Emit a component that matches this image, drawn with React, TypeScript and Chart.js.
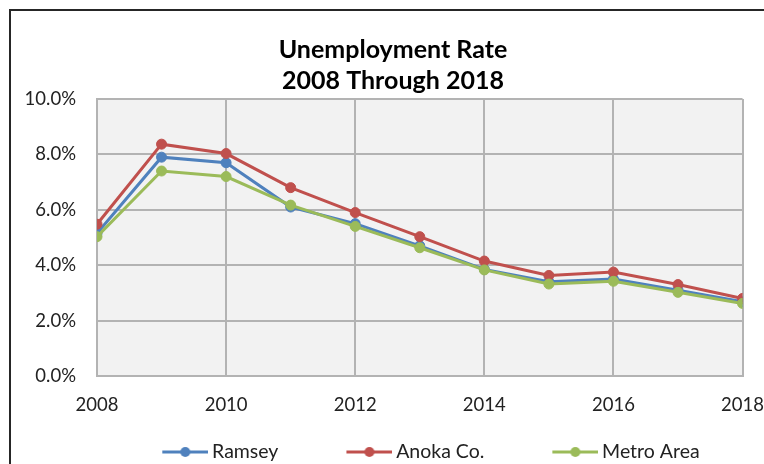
import React, { useEffect, useRef } from "react";
import { Chart, registerables } from "chart.js";

Chart.register(...registerables);

const years = [2008, 2009, 2010, 2011, 2012, 2013, 2014, 2015, 2016, 2017, 2018];
const ramsey = [5.15, 7.9, 7.7, 6.1, 5.5, 4.7, 3.85, 3.4, 3.5, 3.1, 2.68];
const anoka = [5.48, 8.37, 8.03, 6.8, 5.9, 5.03, 4.15, 3.63, 3.75, 3.3, 2.8];
const metro = [5.03, 7.4, 7.2, 6.17, 5.4, 4.63, 3.83, 3.32, 3.42, 3.02, 2.62];
const seriesNames = ["Ramsey", "Anoka Co.", "Metro Area"];
const seriesColors = ["#4f81bd", "#c0504d", "#9bbb59"];
const titleLines = ["Unemployment Rate", "2008 Through 2018"];

const FONT = "Lato, 'Open Sans', sans-serif";

function makeIcon(color: string): HTMLCanvasElement {
  const c = document.createElement("canvas");
  c.width = 52;
  c.height = 14;
  const ctx = c.getContext("2d")!;
  ctx.strokeStyle = color;
  ctx.lineWidth = 3;
  ctx.beginPath();
  ctx.moveTo(6, 7);
  ctx.lineTo(52, 7);
  ctx.stroke();
  ctx.fillStyle = color;
  ctx.beginPath();
  ctx.arc(29, 7, 5, 0, Math.PI * 2);
  ctx.fill();
  return c;
}

const plotBg = {
  id: "plotBg",
  beforeDraw(chart: any) {
    const { ctx, chartArea } = chart;
    ctx.save();
    ctx.fillStyle = "#f2f2f2";
    ctx.fillRect(chartArea.left, chartArea.top, chartArea.right - chartArea.left, chartArea.bottom - chartArea.top);
    ctx.restore();
  },
};

// place title and legend boxes where the reference has them
const placeBoxes = {
  id: "placeBoxes",
  afterLayout(chart: any) {
    const t = chart.titleBlock;
    if (t) {
      const cx = 393;
      const half = (t.right - t.left) / 2;
      t.left = cx - half;
      t.right = cx + half;
    }
    const lg = chart.legend;
    if (lg) {
      const cx = 431;
      lg.left = cx - 370;
      lg.right = cx + 370;
      lg.width = 740;
      const pad = lg.options.labels.padding;
      const fs = lg.options.labels.font.size;
      lg.top = 452 - pad - fs / 2;
      lg.height = fs + pad + 10;
      lg.bottom = lg.top + lg.height;
    }
  },
};

export default function App() {
  const ref = useRef<HTMLCanvasElement>(null);
  useEffect(() => {
    const icons = seriesColors.map(makeIcon);
    const all = [ramsey, anoka, metro];
    const chart = new Chart(ref.current!, {
      type: "line",
      data: {
        datasets: all.map((vals, i) => ({
          label: seriesNames[i],
          data: vals.map((v, j) => ({ x: years[j], y: v })),
          borderColor: seriesColors[i],
          backgroundColor: seriesColors[i],
          borderWidth: 3,
          pointRadius: 5,
          pointBorderWidth: 1,
          pointBackgroundColor: seriesColors[i],
          pointBorderColor: seriesColors[i],
          tension: 0,
          order: 3 - i,
        })),
      },
      options: {
        responsive: false,
        animation: false,
        layout: { padding: { left: 0, right: 21, top: 0, bottom: 47 } },
        plugins: {
          tooltip: { enabled: false },
          title: {
            display: true,
            text: titleLines,
            color: "#000",
            font: { family: FONT, size: 25, weight: "bold", lineHeight: 1.24 },
            padding: { top: 34.5, bottom: 2.5 },
          },
          legend: {
            position: "bottom",
            align: "center",
            maxHeight: 1,
            labels: {
              usePointStyle: true,
              pointStyleWidth: 40,
              padding: 68,
              color: "#222",
              font: { family: FONT, size: 19.5 },
              sort: (a: any, b: any) => a.datasetIndex - b.datasetIndex,
              generateLabels: (ch: any) => {
                const items = (Chart as any).defaults.plugins.legend.labels.generateLabels(ch);
                items.forEach((it: any) => {
                  it.pointStyle = icons[it.datasetIndex];
                });
                return items;
              },
            },
          },
        },
        scales: {
          x: {
            type: "linear",
            min: 2008,
            max: 2018,
            afterFit: (s: any) => {
              s.height = 40;
            },
            ticks: {
              stepSize: 2,
              padding: 0,
              color: "#222",
              font: { family: FONT, size: 18.5 },
              callback: (v: any) => String(v),
              maxRotation: 0,
            },
            grid: {
              color: "#b3b3b3",
              lineWidth: 2,
              drawTicks: true,
              tickLength: 18,
              tickColor: "rgba(0,0,0,0)",
            },
            border: { display: true, color: "#b3b3b3", width: 2 },
          },
          y: {
            min: 0,
            max: 10,
            afterFit: (s: any) => {
              s.width = 97;
            },
            ticks: {
              stepSize: 2,
              padding: 21,
              color: "#222",
              font: { family: FONT, size: 18.5 },
              callback: (v: any) => Number(v).toFixed(1) + "%",
            },
            grid: { color: "#b3b3b3", lineWidth: 2, drawTicks: false },
            border: { display: true, color: "#b3b3b3", width: 2 },
          },
        },
      },
      plugins: [plotBg, placeBoxes],
    } as any);
    return () => chart.destroy();
  }, []);
  return (
    <div>
      <div
        style={{
          position: "fixed",
          left: 9,
          top: 9,
          width: 800,
          height: 500,
          borderLeft: "2px solid #262626",
          borderTop: "2px solid #262626",
          boxSizing: "border-box",
        }}
      />
      <canvas
        ref={ref}
        width={764}
        height={464}
        style={{ position: "fixed", left: 0, top: 0, width: 764, height: 464 }}
      />
    </div>
  );
}
